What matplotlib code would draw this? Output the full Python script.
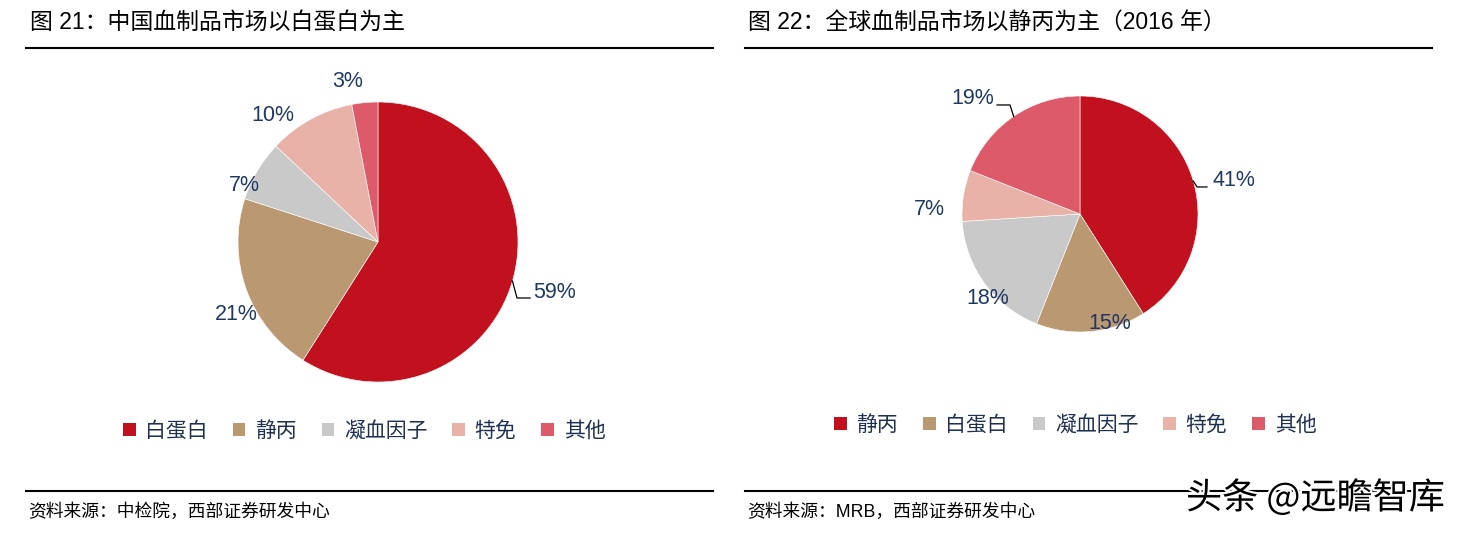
import matplotlib
matplotlib.use("Agg")
import matplotlib.pyplot as plt
import matplotlib.patheffects as pe
from matplotlib.lines import Line2D
from matplotlib.patches import Patch
import numpy as np

plt.rcParams['font.family'] = ['Liberation Sans', 'Noto Sans CJK SC', 'DejaVu Sans']

# data
cn_labels = ['白蛋白', '静丙', '凝血因子', '特免', '其他']
cn_values = [59, 21, 7, 10, 3]
gl_labels = ['静丙', '白蛋白', '凝血因子', '特免', '其他']
gl_values = [41, 15, 18, 7, 19]

title_left = '图 21：中国血制品市场以白蛋白为主'
title_right = '图 22：全球血制品市场以静丙为主（2016 年）'
source_left = '资料来源：中检院，西部证券研发中心'
source_right = '资料来源：MRB，西部证券研发中心'

colors = ['#C1101E', '#BA9872', '#C9C9C9', '#E8B2A8', '#DC5A69']
label_color = '#203864'

W, H = 1462, 535
fig = plt.figure(figsize=(W / 100, H / 100), dpi=100)


def fx(x):
    return x / W


def fy(y):
    return 1 - y / H


def pie_panel(cx, cy, r, values, label_pos, leaders):
    ax = fig.add_axes([fx(cx - r), fy(cy + r), 2 * r / W, 2 * r / H])
    wedges, _ = ax.pie(values, colors=colors, startangle=90, counterclock=False,
                       radius=1, wedgeprops=dict(edgecolor='white', linewidth=0.4))
    ax.set_xlim(-1, 1)
    ax.set_ylim(-1, 1)
    ax.set_aspect('equal')
    ax.axis('off')
    for i, (w, v) in enumerate(zip(wedges, values)):
        x, y = label_pos[i]
        ha = 'center'
        if i in leaders:
            mid = np.deg2rad((w.theta1 + w.theta2) / 2)
            ex, ey = np.cos(mid), np.sin(mid)
            (bx, by), (tx, ty) = leaders[i]
            ax.plot([ex, bx, tx], [ey, by, ty], color='black', lw=0.9, clip_on=False)
            ha = 'left' if tx > 0 else 'right'
        ax.text(x, y, f'{v}%', ha=ha, va='center', fontsize=15.5, color=label_color)
    return ax


pie_panel(378, 242, 140, cn_values,
          [(1.107, -0.364), (-1.014, -0.521), (-0.957, 0.407), (-0.75, 0.907), (-0.214, 1.143)],
          {0: [(0.993, -0.40), (1.086, -0.40)]})
pie_panel(1080, 214, 118, gl_values,
          [(1.119, 0.28), (0.254, -0.932), (-0.78, -0.72), (-1.28, 0.042), (-0.729, 0.983)],
          {0: [(0.992, 0.229), (1.076, 0.229)], 4: [(-0.593, 0.924), (-0.703, 0.924)]})

# rules
for x0, x1 in [(26, 713), (745, 1432)]:
    for y in (47.5, 491):
        fig.add_artist(Line2D([fx(x0), fx(x1)], [fy(y), fy(y)], color='black', lw=1.5))

# titles and sources
fig.text(fx(30), fy(22), title_left, fontsize=16.5, va='center', ha='left', color='black')
fig.text(fx(748), fy(22), title_right, fontsize=16.5, va='center', ha='left', color='black')
fig.text(fx(28), fy(512), source_left, fontsize=12.8, va='center', ha='left', color='black')
fig.text(fx(747), fy(512), source_right, fontsize=12.8, va='center', ha='left', color='black')

# legends
for labels, cx, cy in [(cn_labels, 364, 431), (gl_labels, 1075, 425)]:
    handles = [Patch(facecolor=c, edgecolor='none') for c in colors]
    fig.legend(handles, labels, loc='center', bbox_to_anchor=(fx(cx), fy(cy)), ncol=5,
               frameon=False, fontsize=15, handlelength=0.62, handleheight=0.62,
               handletextpad=0.45, columnspacing=1.2, labelcolor='#1f3050')

# watermark
fig.text(fx(1445), fy(498), '头条 @远瞻智库', fontsize=26, ha='right', va='center',
         color='black', family=['Noto Sans CJK SC'],
         path_effects=[pe.withStroke(linewidth=3, foreground='white')])

fig.savefig('out.png', dpi=100, facecolor='white')
